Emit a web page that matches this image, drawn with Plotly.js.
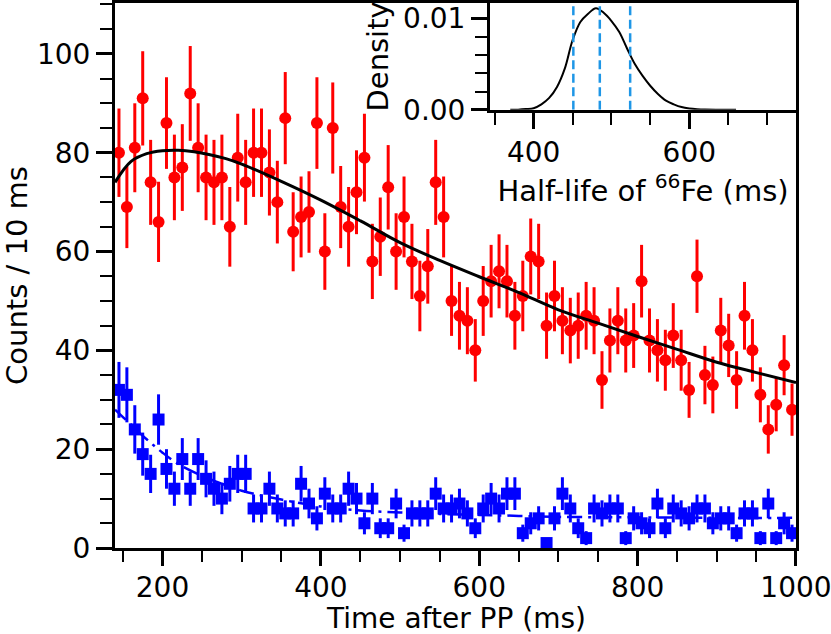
<!DOCTYPE html>
<html><head><meta charset="utf-8">
<script src="https://cdn.plot.ly/plotly-3.0.1.min.js"></script>
<style>html,body{margin:0;padding:0;background:#fff}#plot{width:831px;height:634px}</style>
</head><body><div id="plot"></div>
<script>
// 10 ms bin centres
const binTime = [145,155,165,175,185,195,205,215,225,235,245,255,265,275,285,295,305,315,325,335,
  345,355,365,375,385,395,405,415,425,435,445,455,465,475,485,495,505,515,525,535,
  545,555,565,575,585,595,605,615,625,635,645,655,665,675,685,695,705,715,725,735,
  745,755,765,775,785,795,805,815,825,835,845,855,865,875,885,895,905,915,925,935,
  945,955,965,975,985,995];
// red circles: counts / 10 ms
const redCounts = [80,69,81,91,74,66,86,75,77,92,81,75,74,75,65,79,74,80,80,76,
  70,87,64,67,68,86,60,85,69,65,72,79,58,63,73,60,67,58,51,57,
  74,67,50,47,46,40,50,54,56,54,47,51,59,58,45,51,46,44,45,47,
  46,34,42,46,42,43,54,42,40,38,43,38,32,55,35,33,44,41,34,47,
  40,31,24,29,37,28];
// blue squares: counts / 10 ms
const blueCounts = [32,31,24,19,15,26,16,12,18,12,18,14,12,10,13,15,15,8,8,12,
  8,7,7,13,9,6,11,8,8,12,10,5,10,4,4,9,3,7,7,7,
  11,8,8,9,7,4,8,10,8,11,11,3,5,6,1,6,11,8,4,2,
  8,7,8,8,2,6,5,4,9,4,8,7,6,8,8,5,6,6,3,7,
  7,2,9,2,5,3];
// fit curve for red data (black)
const fitRedT = [140,160,180,200,220,240,260,280,300,350,400,450,500,550,600,650,700,750,800,850,900,950,1000];
const fitRedV = [74.0,78.2,79.8,80.4,80.5,80.2,79.6,78.8,77.7,74.2,70.4,66.2,61.8,58.2,54.9,51.7,48.2,45.5,42.8,40.2,37.6,35.5,33.5];
// fit curve for blue data (dash-dot)
const fitBlueT = [140,150,160,180,200,220,250,275,300,350,400,450,500,550,600,650,700,800,900,1000];
const fitBlueV = [28.0,26.5,25.0,22.0,19.3,17.0,14.6,13.0,11.6,9.8,8.4,7.6,7.2,6.9,6.7,6.5,6.3,6.2,6.1,6.1];
// inset: posterior density of the 66Fe half-life
const halfLife = [370,380,390,400,410,420,430,440,450,460,470,480,490,500,510,520,530,540,550,560,570,580,590,600,610,620,640,660];
const density = [0,0.00002,0.00008,0.00018,0.0006,0.0013,0.0025,0.0045,0.0076,0.0096,0.0105,0.0111,0.0106,0.0097,0.0085,0.0067,0.0050,0.0037,0.0026,0.0017,0.0010,0.0006,0.0003,0.00015,0.00007,0.00003,0.00001,0];
// inset: median and interval bounds (ms)
const halfLifeMarks = [451, 485, 524];
const insetTop = 0.01167;

const errRed = redCounts.map(Math.sqrt);
const errBlue = blueCounts.map(Math.sqrt);

const traces = [
  {x: binTime, y: redCounts, type:'scatter', mode:'markers', xaxis:'x', yaxis:'y',
   marker:{symbol:'circle', size:12, color:'#ff0000'},
   error_y:{type:'data', array:errRed, visible:true, thickness:3, width:0, color:'#ff0000'}},
  {x: binTime, y: blueCounts, type:'scatter', mode:'markers', xaxis:'x', yaxis:'y',
   marker:{symbol:'square', size:12, color:'#0000ff'},
   error_y:{type:'data', array:errBlue, visible:true, thickness:3, width:0, color:'#0000ff'}},
  {x: fitRedT, y: fitRedV, type:'scatter', mode:'lines', line:{color:'black', width:3, shape:'spline'}, xaxis:'x', yaxis:'y'},
  {x: fitBlueT, y: fitBlueV, type:'scatter', mode:'lines', line:{color:'#0000ff', width:2.5, shape:'spline', dash:'15px,6px,3px,6px'}, xaxis:'x', yaxis:'y'},
  {x: halfLife, y: density, type:'scatter', mode:'lines', line:{color:'black', width:2, shape:'spline'}, xaxis:'x2', yaxis:'y2'}
];
halfLifeMarks.forEach(v => traces.push({x:[v,v], y:[0, insetTop], type:'scatter', mode:'lines',
  line:{color:'#1e96e6', width:2.5, dash:'9px,4.5px'}, xaxis:'x2', yaxis:'y2'}));

const axBase = {showline:true, linewidth:3, linecolor:'black', mirror:true, ticks:'outside',
  tickcolor:'black', showgrid:false, zeroline:false, ticklabeloverflow:'allow'};
const fnt = {family:'DejaVu Sans, sans-serif', size:28, color:'black'};
const tfnt = {family:'DejaVu Sans, sans-serif', size:29, color:'black'};

const layout = {
  width:831, height:634, margin:{l:115, r:35, t:3, b:86},
  paper_bgcolor:'white', plot_bgcolor:'white', showlegend:false, font:fnt,
  xaxis: Object.assign({}, axBase, {domain:[0,1], range:[140,1000.01], tick0:200, dtick:200, ticklen:15, tickwidth:3,
    ticklabelstandoff:-3,
    minor:{dtick:50, ticks:'outside', ticklen:11, tickwidth:2, tickcolor:'black', showgrid:false}}),
  yaxis: Object.assign({}, axBase, {domain:[0,1], range:[0,110.3], tick0:0, dtick:20, ticklen:16, tickwidth:3,
    minor:{dtick:5, ticks:'outside', ticklen:12, tickwidth:2, tickcolor:'black', showgrid:false},
    title:{text:'Counts / 10 ms', font:tfnt, standoff:6}}),
  xaxis2: Object.assign({}, axBase, {anchor:'y2', domain:[0.5507,1], range:[344,737], tick0:400, dtick:200, ticklen:16, tickwidth:3,
    minor:{dtick:50, ticks:'outside', ticklen:12, tickwidth:2, tickcolor:'black', showgrid:false},
    title:{text:'Half-life of <sup>66</sup>Fe (ms)', font:tfnt, standoff:4}}),
  yaxis2: Object.assign({}, axBase, {anchor:'x2', domain:[0.804,1], range:[0,insetTop], tick0:0, dtick:0.01, tickformat:'.2f', ticklen:16, tickwidth:3,
    minor:{dtick:0.002, ticks:'outside', ticklen:12, tickwidth:2, tickcolor:'black', showgrid:false},
    title:{text:'Density', font:tfnt, standoff:6}}),
  annotations:[{text:'Time after PP (ms)', xref:'paper', yref:'paper', x:0.5, y:0, xanchor:'center', yanchor:'bottom',
    yshift:-89, showarrow:false, font:fnt}]
};
Plotly.newPlot('plot', traces, layout, {displayModeBar:false, staticPlot:true});
</script>
</body></html>
